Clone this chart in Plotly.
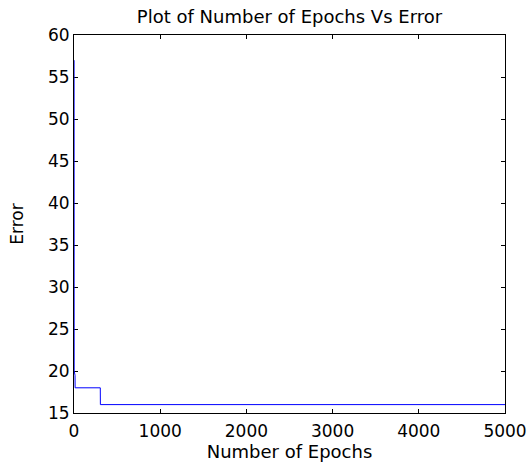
import plotly.graph_objects as go

# Data
epochs = [1, 2, 12, 13, 305, 306, 5000]
errors = [57, 20, 19.5, 18, 18, 16, 16]

x_ticks = [0, 1000, 2000, 3000, 4000, 5000]
y_ticks = [15, 20, 25, 30, 35, 40, 45, 50, 55, 60]

FONT = "DejaVu Sans"

fig = go.Figure()
fig.add_trace(go.Scatter(
    x=epochs, y=errors, mode="lines",
    line=dict(color="#0000ff", width=1),
    showlegend=False, cliponaxis=False,
))

axis_common = dict(
    showline=True, linecolor="black", linewidth=1, mirror="allticks",
    ticks="inside", ticklen=4, tickwidth=1, tickcolor="black",
    showgrid=False, zeroline=False, automargin=False,
    tickfont=dict(family=FONT, size=17, color="black"),
    layer="below traces",
)

fig.update_layout(
    width=531, height=467,
    margin=dict(l=74, r=26, t=35, b=54),
    paper_bgcolor="white", plot_bgcolor="white",
    title=dict(
        text="Plot of Number of Epochs Vs Error",
        font=dict(family=FONT, size=18, color="black"),
        x=(74 + 505) / 2 / 531, xanchor="center",
        y=1 - 17 / 467, yanchor="middle", yref="container",
    ),
    xaxis=dict(
        range=[0, 5000], tickvals=x_ticks,
        ticktext=[str(v) for v in x_ticks],
        ticklabelstandoff=3,
        title=dict(text="Number of Epochs", font=dict(family=FONT, size=18, color="black"), standoff=1),
        **axis_common,
    ),
    yaxis=dict(
        range=[15, 60], tickvals=y_ticks,
        ticktext=[str(v) for v in y_ticks],
        title=dict(text="Error", font=dict(family=FONT, size=17, color="black"), standoff=20),
        **axis_common,
    ),
)

fig.write_html("out.html")
